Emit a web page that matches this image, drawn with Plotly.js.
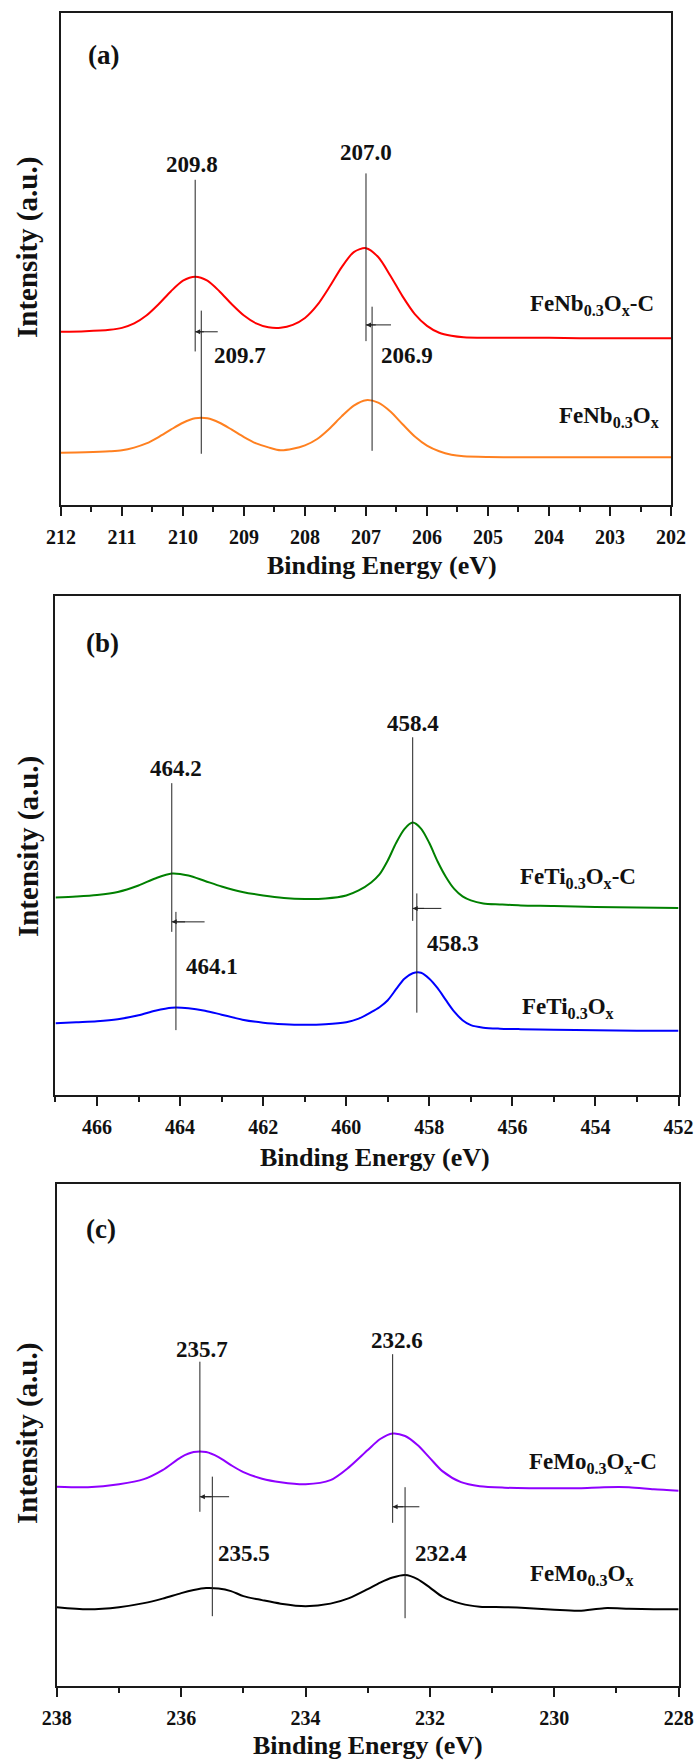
<!DOCTYPE html>
<html>
<head>
<meta charset="utf-8">
<script src="https://cdn.plot.ly/plotly-3.0.1.min.js"></script>
<style>html,body{margin:0;padding:0;background:#fff;}#chart{width:696px;height:1763px;}</style>
</head>
<body>
<div id="chart"></div>
<script>
// ---------------- DATA ----------------
// Panel (a) Nb 3d
const energyA = [212, 211.6, 211.2, 211.0, 210.8, 210.6, 210.4, 210.2, 210.0, 209.8, 209.6, 209.4, 209.2, 209.0, 208.8, 208.6, 208.4, 208.2, 208.0, 207.8, 207.6, 207.4, 207.2, 207.0, 206.8, 206.6, 206.4, 206.2, 206.0, 205.8, 205.6, 205.4, 205.0, 204.5, 204.0, 203.5, 203.0, 202.5, 202.0];
const feNbC = [35.2, 35.3, 35.6, 36.0, 36.9, 38.5, 40.8, 43.4, 45.6, 46.4, 45.6, 43.4, 40.8, 38.5, 36.9, 36.1, 36.0, 36.6, 38.0, 40.6, 44.3, 48.3, 51.4, 52.2, 50.4, 46.6, 42.4, 38.8, 36.4, 35.0, 34.4, 34.1, 34.0, 34.0, 34.0, 33.9, 33.9, 33.9, 33.9];
const feNb = [10.6, 10.7, 10.9, 11.1, 11.65, 12.5, 13.8, 15.3, 16.7, 17.6, 17.6, 16.7, 15.3, 13.8, 12.5, 11.7, 11.1, 11.4, 12.1, 13.4, 15.5, 18.0, 20.2, 21.3, 20.8, 19.0, 16.4, 13.9, 12.05, 10.9, 10.2, 9.9, 9.75, 9.7, 9.7, 9.7, 9.7, 9.7, 9.7];
const peaksNbC = [209.8, 207.0];
const peaksNb = [209.7, 206.9];
const namesA = ['FeNb<sub>0.3</sub>O<sub>x</sub>-C', 'FeNb<sub>0.3</sub>O<sub>x</sub>'];

// Panel (b) Ti 2p
const energyB = [467, 466.5, 466, 465.5, 465, 464.6, 464.2, 463.8, 463.4, 463, 462.5, 462, 461.5, 461, 460.5, 460, 459.7, 459.4, 459.2, 459.0, 458.8, 458.6, 458.4, 458.2, 458.0, 457.8, 457.6, 457.4, 457.2, 457.0, 456.7, 456.3, 455.8, 455, 454, 453, 452];
const feTiC = [39.6, 39.8, 40.1, 40.7, 42.0, 43.4, 44.4, 44.0, 42.9, 41.8, 40.7, 40.0, 39.5, 39.3, 39.4, 40.0, 41.0, 42.6, 44.2, 47.0, 50.5, 53.3, 54.6, 53.4, 50.5, 46.8, 43.7, 41.3, 39.8, 39.0, 38.4, 38.2, 38.0, 37.9, 37.7, 37.6, 37.5];
const feTi = [14.4, 14.6, 14.8, 15.2, 16.0, 16.9, 17.5, 17.4, 16.9, 16.1, 15.1, 14.5, 14.2, 14.1, 14.2, 14.6, 15.3, 16.6, 17.6, 19.0, 21.2, 23.3, 24.4, 24.5, 23.3, 21.4, 19.0, 16.7, 15.0, 14.0, 13.5, 13.3, 13.2, 13.1, 13.0, 12.9, 12.9];
const peaksTiC = [464.2, 458.4];
const peaksTi = [464.1, 458.3];
const namesB = ['FeTi<sub>0.3</sub>O<sub>x</sub>-C', 'FeTi<sub>0.3</sub>O<sub>x</sub>'];

// Panel (c) Mo 3d
const energyC = [238, 237.5, 237, 236.6, 236.3, 236.0, 235.8, 235.6, 235.4, 235.2, 235.0, 234.7, 234.4, 234.0, 233.6, 233.3, 233.0, 232.8, 232.6, 232.4, 232.2, 232.0, 231.8, 231.5, 231.2, 230.8, 230.4, 230.0, 229.6, 229.2, 228.8, 228.4, 228.0];
const feMoC = [39.7, 39.6, 40.2, 41.2, 43.0, 45.6, 46.6, 46.6, 45.6, 44.0, 42.6, 41.3, 40.6, 40.2, 41.0, 43.6, 47.0, 49.2, 50.3, 49.8, 48.0, 45.4, 42.8, 40.6, 39.8, 39.5, 39.4, 39.4, 39.4, 39.6, 39.6, 39.2, 38.9];
const feMo = [15.7, 15.3, 15.7, 16.5, 17.4, 18.5, 19.1, 19.5, 19.4, 18.9, 17.9, 17.1, 16.4, 15.9, 16.4, 17.5, 19.3, 20.6, 21.6, 22.1, 21.3, 19.6, 17.8, 16.4, 15.8, 15.7, 15.5, 15.2, 15.0, 15.5, 15.4, 15.3, 15.3];
const peaksMoC = [235.7, 232.6];
const peaksMo = [235.5, 232.4];
const namesC = ['FeMo<sub>0.3</sub>O<sub>x</sub>-C', 'FeMo<sub>0.3</sub>O<sub>x</sub>'];

const panelLetters = ['(a)', '(b)', '(c)'];
const xTitle = 'Binding Energy (eV)';
const yTitle = 'Intensity (a.u.)';

// ---------------- STYLE / LAYOUT ----------------
const FONT = 'Liberation Serif, Times New Roman, serif';
const panels = [
  { ax: '', range: [212, 202], dtick: 1, minor: 0.5,
    xdom: [0.0876, 0.9641], ydom: [0.7136, 0.9926],
    e: energyA, c: feNbC, o: feNb, colC: '#ff0000', colO: '#ff8020',
    pC: peaksNbC, pO: peaksNb, names: namesA,
    lineC: [[31.2, 66.1], [33.3, 67.4]], lineO: [[10.4, 39.5], [11.0, 40.3]],
    txtC: [[209.85, 69.3], [207.0, 71.6]], txtO: [[209.06, 30.4], [206.33, 30.4]],
    arr: [[209.43, 35.2], [206.59, 36.6]],
    lab: [[203.30, 40.6], [203.02, 17.8]], letter: [211.3, 91.5],
    xt: [0.5489, 0.6795], yt: [0.0402, 0.8599] },
  { ax: '2', range: [467, 452], dtick: 2, minor: 1,
    xdom: [0.0797, 0.9749], ydom: [0.3789, 0.6619],
    e: energyB, c: feTiC, o: feTi, colC: '#008000', colO: '#0000ff',
    pC: peaksTiC, pO: peaksTi, names: namesB,
    lineC: [[32.7, 62.5], [34.9, 71.7]], lineO: [[13.0, 36.7], [16.5, 40.4]],
    txtC: [[464.1, 65.5], [458.4, 74.5]], txtO: [[463.24, 25.7], [457.43, 30.4]],
    arr: [[463.41, 34.7], [457.71, 37.4]],
    lab: [[454.43, 43.5], [454.66, 17.4]], letter: [465.86, 90.6],
    xt: [0.5388, 0.3437], yt: [0.0402, 0.5201] },
  { ax: '3', range: [238, 228], dtick: 2, minor: 1,
    xdom: [0.0817, 0.9751], ydom: [0.0437, 0.3284],
    e: energyC, c: feMoC, o: feMo, colC: '#8f00ff', colO: '#000000',
    pC: peaksMoC, pO: peaksMo, names: namesC,
    lineC: [[34.7, 64.6], [32.5, 66.1]], lineO: [[13.9, 41.7], [13.5, 39.6]],
    txtC: [[235.66, 67.1], [232.53, 68.9]], txtO: [[234.99, 26.3], [231.83, 26.3]],
    arr: [[235.23, 37.7], [232.17, 35.7]],
    lab: [[229.38, 44.4], [229.55, 22.1]], letter: [237.29, 91.0],
    xt: [0.5287, 0.0102], yt: [0.0402, 0.1872] }
];

const traces = [];
const shapes = [];
const annotations = [];
const layout = {
  width: 696, height: 1763,
  margin: { l: 0, r: 0, t: 0, b: 0 },
  paper_bgcolor: '#ffffff', plot_bgcolor: '#ffffff',
  showlegend: false,
  font: { family: FONT, color: '#000' }
};

const txtFont = (s) => ({ family: FONT, size: s, color: '#111', weight: 'bold' });

panels.forEach((p, i) => {
  const xa = 'x' + p.ax, ya = 'y' + p.ax;
  [[p.c, p.colC], [p.o, p.colO]].forEach(([ys, col]) => {
    traces.push({ x: p.e, y: ys, type: 'scatter', mode: 'lines', xaxis: xa, yaxis: ya,
      line: { color: col, width: 2, shape: 'spline', smoothing: 0.8 }, hoverinfo: 'skip' });
  });
  layout['xaxis' + p.ax] = {
    domain: p.xdom, anchor: ya, range: p.range, dtick: p.dtick, tick0: p.range[1],
    showline: true, mirror: true, linecolor: '#1a1a1a', linewidth: 2,
    ticks: 'outside', ticklen: 9, tickwidth: 2, tickcolor: '#1a1a1a',
    ticklabelstandoff: 4,
    tickfont: txtFont(20), showgrid: false, zeroline: false,
    minor: { dtick: p.minor, ticks: 'outside', ticklen: 5, tickwidth: 2, tickcolor: '#1a1a1a', showgrid: false }
  };
  layout['yaxis' + p.ax] = {
    domain: p.ydom, anchor: xa, range: [0, 100],
    showline: true, mirror: true, linecolor: '#1a1a1a', linewidth: 2,
    ticks: '', showticklabels: false, showgrid: false, zeroline: false
  };
  // vertical marker lines
  p.pC.forEach((pk, k) => shapes.push({ type: 'line', xref: xa, yref: ya, x0: pk, x1: pk,
    y0: p.lineC[k][0], y1: p.lineC[k][1], line: { color: '#222', width: 1 } }));
  p.pO.forEach((pk, k) => shapes.push({ type: 'line', xref: xa, yref: ya, x0: pk, x1: pk,
    y0: p.lineO[k][0], y1: p.lineO[k][1], line: { color: '#222', width: 1 } }));
  // peak value texts
  p.pC.forEach((pk, k) => annotations.push({ xref: xa, yref: ya, x: p.txtC[k][0], y: p.txtC[k][1],
    text: pk.toFixed(1), showarrow: false, font: txtFont(23), xanchor: 'center', yanchor: 'middle' }));
  p.pO.forEach((pk, k) => annotations.push({ xref: xa, yref: ya, x: p.txtO[k][0], y: p.txtO[k][1],
    text: pk.toFixed(1), showarrow: false, font: txtFont(23), xanchor: 'center', yanchor: 'middle' }));
  // shift arrows: horizontal line with small arrowhead
  p.pC.forEach((pk, k) => {
    shapes.push({ type: 'line', xref: xa, yref: ya, x0: pk, x1: p.arr[k][0],
      y0: p.arr[k][1], y1: p.arr[k][1], line: { color: '#222', width: 1 } });
    annotations.push({ xref: xa, yref: ya, axref: xa, ayref: ya,
      x: pk, y: p.arr[k][1], ax: pk + (p.arr[k][0] - pk) * 0.45, ay: p.arr[k][1], text: '', showarrow: true,
      arrowhead: 2, arrowsize: 1, arrowwidth: 1, arrowcolor: '#222', standoff: 0, startstandoff: 0 });
  });
  // sample labels
  p.names.forEach((nm, k) => annotations.push({ xref: xa, yref: ya, x: p.lab[k][0], y: p.lab[k][1],
    text: nm, showarrow: false, font: txtFont(23), xanchor: 'center', yanchor: 'middle' }));
  // panel letter
  annotations.push({ xref: xa, yref: ya, x: p.letter[0], y: p.letter[1], text: panelLetters[i],
    showarrow: false, font: txtFont(27), xanchor: 'center', yanchor: 'middle' });
  // axis titles
  annotations.push({ xref: 'paper', yref: 'paper', x: p.xt[0], y: p.xt[1], text: xTitle,
    showarrow: false, font: txtFont(26), xanchor: 'center', yanchor: 'middle' });
  annotations.push({ xref: 'paper', yref: 'paper', x: p.yt[0], y: p.yt[1], text: yTitle,
    showarrow: false, font: txtFont(29), textangle: -90, xanchor: 'center', yanchor: 'middle' });
});

layout.shapes = shapes;
layout.annotations = annotations;

Plotly.newPlot('chart', traces, layout, { staticPlot: true, displayModeBar: false });
</script>
</body>
</html>
